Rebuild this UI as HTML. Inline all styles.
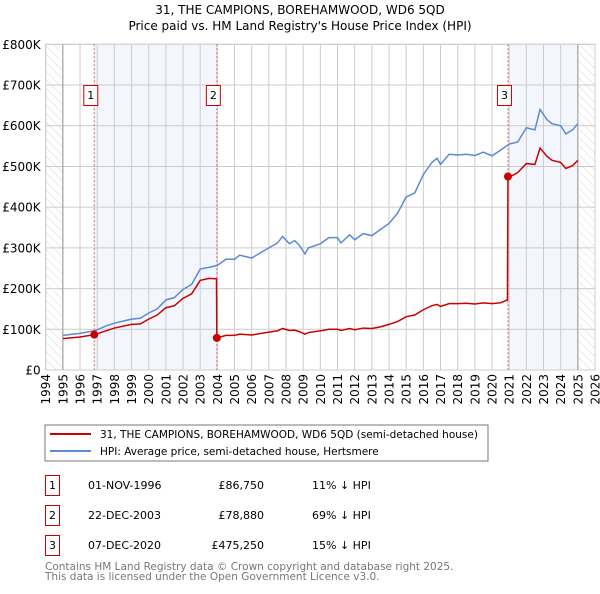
<!DOCTYPE html>
<html><head><meta charset="utf-8"><style>
body{margin:0;background:#fff;font-family:"DejaVu Sans","Liberation Sans",sans-serif;}
svg text{font-family:"DejaVu Sans","Liberation Sans",sans-serif;}
</style></head><body>
<svg id="c" width="600" height="590" xmlns="http://www.w3.org/2000/svg">
<defs><pattern id="hatch" width="6" height="6" patternUnits="userSpaceOnUse" patternTransform="rotate(-45)"><line x1="0" y1="0" x2="0" y2="6" stroke="#d8d8d8" stroke-width="1"/></pattern></defs>
<text x="300" y="14" text-anchor="middle" font-size="12">31, THE CAMPIONS, BOREHAMWOOD, WD6 5QD</text>
<text x="300" y="30" text-anchor="middle" font-size="12">Price paid vs. HM Land Registry's House Price Index (HPI)</text>
<g id="plot"></g>
<rect x="45" y="425" width="443" height="36" fill="#fff" stroke="#777"/>
<line x1="50" y1="434" x2="91" y2="434" stroke="#cc0000" stroke-width="2"/>
<text x="100" y="438" font-size="10.5">31, THE CAMPIONS, BOREHAMWOOD, WD6 5QD (semi-detached house)</text>
<line x1="50" y1="451" x2="91" y2="451" stroke="#5b8bd0" stroke-width="2"/>
<text x="100" y="455" font-size="10.5">HPI: Average price, semi-detached house, Hertsmere</text>
<g font-size="11">
<rect x="45.5" y="475.5" width="14" height="20" fill="#fff" stroke="#cc0000"/><text x="52.5" y="489" text-anchor="middle">1</text>
<text x="88" y="489">01-NOV-1996</text><text x="264" y="489" text-anchor="end">£86,750</text><text x="312" y="489">11% ↓ HPI</text>
<rect x="45.5" y="505.5" width="14" height="20" fill="#fff" stroke="#cc0000"/><text x="52.5" y="519" text-anchor="middle">2</text>
<text x="88" y="519">22-DEC-2003</text><text x="264" y="519" text-anchor="end">£78,880</text><text x="312" y="519">69% ↓ HPI</text>
<rect x="45.5" y="535.5" width="14" height="20" fill="#fff" stroke="#cc0000"/><text x="52.5" y="549" text-anchor="middle">3</text>
<text x="88" y="549">07-DEC-2020</text><text x="264" y="549" text-anchor="end">£475,250</text><text x="312" y="549">15% ↓ HPI</text>
</g>
<text x="45" y="570" font-size="10.5" fill="#777">Contains HM Land Registry data © Crown copyright and database right 2025.</text>
<text x="45" y="580" font-size="10.5" fill="#777">This data is licensed under the Open Government Licence v3.0.</text>
</svg>
<script>
const hpiYears=[1995,1996,1996.9,1997.5,1998,1999,1999.5,2000,2000.5,2001,2001.5,2002,2002.5,2003,2003.5,2004,2004.5,2005,2005.3,2006,2007,2007.5,2007.8,2008.2,2008.5,2008.8,2009.1,2009.3,2010,2010.5,2011,2011.2,2011.7,2012,2012.5,2013,2013.5,2014,2014.5,2015,2015.5,2016,2016.5,2016.8,2017,2017.5,2018,2018.5,2019,2019.5,2020,2020.5,2021,2021.5,2022,2022.5,2022.8,2023.2,2023.5,2024,2024.3,2024.7,2025];
const hpiValues=[85,90,97,108,115,125,127,140,150,172,178,198,210,248,252,257,272,272,282,275,300,312,328,310,318,305,285,300,310,325,325,312,332,320,335,330,345,360,385,425,435,480,510,520,505,530,528,530,527,535,526,540,555,560,595,590,640,615,605,600,580,590,605];
const priceYears=[1995,1996,1996.83,1997.5,1998,1999,1999.5,2000,2000.5,2001,2001.5,2002,2002.5,2003,2003.5,2003.95,2003.97,2004.5,2005,2005.3,2006,2007,2007.5,2007.8,2008.2,2008.5,2008.8,2009.1,2009.3,2010,2010.5,2011,2011.2,2011.7,2012,2012.5,2013,2013.5,2014,2014.5,2015,2015.5,2016,2016.5,2016.8,2017,2017.5,2018,2018.5,2019,2019.5,2020,2020.5,2020.9,2020.93,2021.2,2021.5,2022,2022.5,2022.8,2023.2,2023.5,2024,2024.3,2024.7,2025];
const priceValues=[77,81,86.75,96,103,112,113,125,135,153,158,176,187,220,225,224,78.88,85,85,88,86,93,96,102,97,98,94,88,92,96,100,100,97,102,99,103,102,106,112,119,131,135,148,158,161,156,163,163,164,162,165,163,165,172,475.25,478,485,507,505,545,525,515,510,495,502,515];
const saleYears=[1996.83,2003.97,2020.93];
const saleValues=[86.75,78.88,475.25];
const saleLabels=["1","2","3"];
const yTicks=[0,100,200,300,400,500,600,700,800];
const yTickLabels=["£0","£100K","£200K","£300K","£400K","£500K","£600K","£700K","£800K"];
const xTicks=[1994,1995,1996,1997,1998,1999,2000,2001,2002,2003,2004,2005,2006,2007,2008,2009,2010,2011,2012,2013,2014,2015,2016,2017,2018,2019,2020,2021,2022,2023,2024,2025,2026];
const X0=45.7,X1=595,Y0=370,Y1=44.3;
const xs=y=>X0+(y-1994)/32*(X1-X0);
const ys=v=>Y0-v/800*(Y0-Y1);
const NS="http://www.w3.org/2000/svg",g=document.getElementById('plot');
function mk(t,a){const e=document.createElementNS(NS,t);for(const k in a)e.setAttribute(k,a[k]);g.appendChild(e);return e;}
let e;
e=mk('rect',{x:X0,y:Y1,width:X1-X0,height:Y0-Y1,fill:'#fff',stroke:'#ccc'});


e=mk('rect',{x:xs(1996.83),y:Y1,width:xs(2003.97)-xs(1996.83),height:Y0-Y1,fill:'#f3f6fd'});


e=mk('rect',{x:xs(2020.93),y:Y1,width:xs(2025)-xs(2020.93),height:Y0-Y1,fill:'#f3f6fd'});


e=mk('rect',{x:X0,y:Y1,width:xs(1995)-X0,height:Y0-Y1,fill:'url(#hatch)'});


e=mk('rect',{x:xs(2025),y:Y1,width:X1-xs(2025),height:Y0-Y1,fill:'url(#hatch)'});


xTicks.forEach(t=>{
 e=mk('line',{x1:xs(t),x2:xs(t),y1:Y1,y2:Y0,stroke:'#ccc'});
 
 
 e=mk('text',{x:0,y:0,'font-size':12,'text-anchor':'end',transform:`translate(${xs(t)+4.5},${Y0+4}) rotate(-90)`});
 e.textContent=t;
 
 
});
yTicks.forEach((t,i)=>{
 e=mk('line',{x1:X0,x2:X1,y1:ys(t),y2:ys(t),stroke:'#ccc'});
 
 
 e=mk('text',{x:X0-5,y:ys(t)+4.5,'font-size':12,'text-anchor':'end'});
 e.textContent=yTickLabels[i];
 
 
});
[1995,2025].forEach(t=>{e=mk('line',{x1:xs(t),x2:xs(t),y1:Y1,y2:Y0,stroke:'#999'});
 
 });
saleYears.forEach((s,i)=>{
 e=mk('line',{x1:xs(s),x2:xs(s),y1:Y1,y2:Y0,stroke:'#e06060','stroke-dasharray':'2,2'});
 
 
});
e=mk('polyline',{points:hpiYears.map((y,i)=>xs(y)+','+ys(hpiValues[i])).join(' '),fill:'none',stroke:'#5b8bd0','stroke-width':1.5});


e=mk('polyline',{points:priceYears.map((y,i)=>xs(y)+','+ys(priceValues[i])).join(' '),fill:'none',stroke:'#cc0000','stroke-width':1.5});


saleYears.forEach((s,i)=>{
 e=mk('circle',{cx:xs(s),cy:ys(saleValues[i]),r:4,fill:'#cc0000'});
 
 
 e=mk('rect',{x:xs(s)-10.5,y:85.5,width:14,height:20,fill:'#fff',stroke:'#cc0000'});
 
 
 e=mk('text',{x:xs(s)-3.5,y:99,'font-size':11,'text-anchor':'middle'});
 e.textContent=saleLabels[i];
 
 
});
</script>
</body></html>
